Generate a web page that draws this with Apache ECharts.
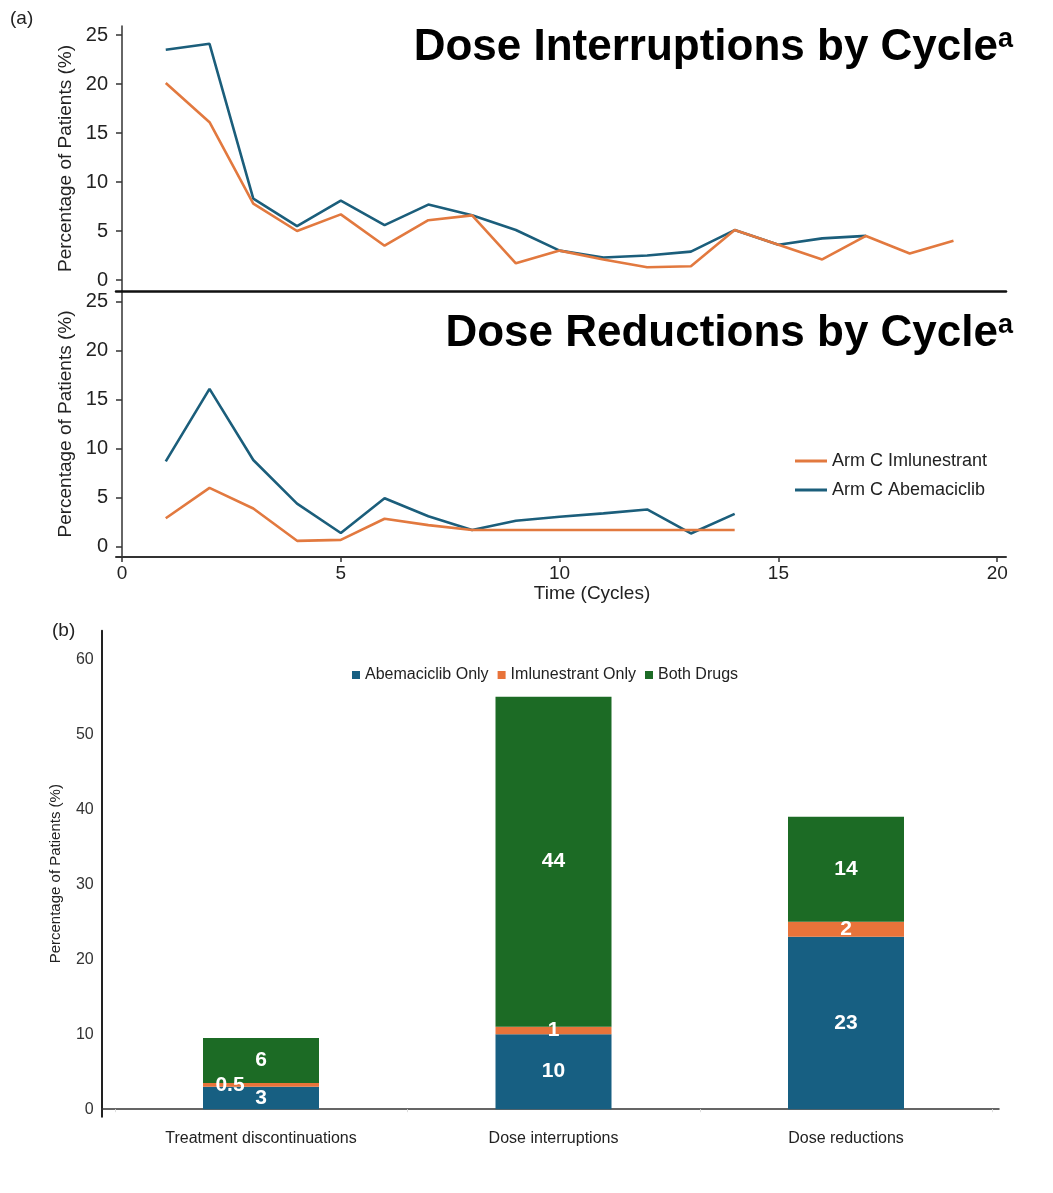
<!DOCTYPE html>
<html>
<head>
<meta charset="utf-8">
<script src="https://cdn.jsdelivr.net/npm/echarts@6/dist/echarts.min.js"></script>
<style>
  html, body { margin: 0; padding: 0; background: #fff; }
  #chart { width: 1053px; height: 1193px; }
</style>
</head>
<body>
<div id="chart"></div>
<script>
// ---- Panel (a): percentage of patients per cycle ----
const cycles = [1, 2, 3, 4, 5, 6, 7, 8, 9, 10, 11, 12, 13, 14, 15, 16, 17, 18, 19];

// Dose interruptions by cycle
const interruptImlunestrant = [20.1, 16.1, 7.8, 5.0, 6.7, 3.5, 6.1, 6.6, 1.7, 3.0, 2.1, 1.3, 1.4, 5.1, 3.6, 2.1, 4.5, 2.7, 4.0];
const interruptAbemaciclib  = [23.5, 24.1, 8.3, 5.5, 8.1, 5.6, 7.7, 6.6, 5.1, 3.0, 2.3, 2.5, 2.9, 5.1, 3.6, 4.25, 4.5];

// Dose reductions by cycle
const reductImlunestrant = [2.9, 6.0, 3.9, 0.6, 0.7, 2.85, 2.2, 1.7, 1.7, 1.7, 1.7, 1.7, 1.7, 1.7];
const reductAbemaciclib  = [8.7, 16.1, 8.85, 4.4, 1.4, 4.95, 3.1, 1.7, 2.65, 3.05, 3.4, 3.8, 1.35, 3.35];

const lineYTicks = [0, 5, 10, 15, 20, 25];
const cycleTicks = [0, 5, 10, 15, 20];

// ---- Panel (b): stacked bars ----
const barCategories = ['Treatment discontinuations', 'Dose interruptions', 'Dose reductions'];
const abemaciclibOnly  = [3, 10, 23];
const imlunestrantOnly = [0.5, 1, 2];
const bothDrugs        = [6, 44, 14];
const barYTicks = [0, 10, 20, 30, 40, 50, 60];

const FONT = '"Liberation Sans", Arial, Helvetica, sans-serif';
const C_ORANGE_LINE = '#e2793f';
const C_BLUE_LINE = '#1b5e7b';
const C_BLUE_BAR = '#175f82';
const C_ORANGE_BAR = '#e8733a';
const C_GREEN_BAR = '#1c6b25';

const pairs = (xs, ys) => ys.map((v, i) => [xs[i], v]);

function cycleXAxis(gridIndex, withLabels, lineStyle) {
  return {
    type: 'value', gridIndex: gridIndex, min: -0.137, max: 20.2,
    position: 'bottom',
    axisLine: { show: true, onZero: false, lineStyle: lineStyle },
    axisTick: { show: withLabels, customValues: cycleTicks, length: 5, lineStyle: { color: '#333', width: 1.5 } },
    axisLabel: { show: withLabels, customValues: cycleTicks, margin: 7, fontSize: 19, color: '#222', fontFamily: FONT },
    splitLine: { show: false },
    name: withLabels ? 'Time (Cycles)' : '',
    nameLocation: 'middle', nameGap: 25,
    nameTextStyle: { fontSize: 19, color: '#222', fontFamily: FONT, padding: [0, 0, 0, 62] }
  };
}

function percentYAxis(gridIndex, min, max) {
  return {
    type: 'value', gridIndex: gridIndex, min: min, max: max,
    axisLine: { show: true, lineStyle: { color: '#333', width: 1.5 } },
    axisTick: { show: true, customValues: lineYTicks, length: 6, lineStyle: { color: '#333', width: 1.5 } },
    axisLabel: { customValues: lineYTicks, margin: 8, fontSize: 20, color: '#222', fontFamily: FONT },
    splitLine: { show: false },
    name: 'Percentage of Patients (%)', nameLocation: 'middle', nameGap: 29,
    nameTextStyle: { fontSize: 19, color: '#222', fontFamily: FONT }
  };
}

function lineSeries(name, xIdx, yIdx, values, color) {
  return {
    type: 'line', name: name, xAxisIndex: xIdx, yAxisIndex: yIdx,
    data: pairs(cycles, values), symbol: 'none', smooth: false,
    lineStyle: { color: color, width: 2.6 }, itemStyle: { color: color },
    emphasis: { disabled: true }
  };
}

const barLabel = { show: true, position: 'inside', color: '#fff', fontSize: 21, fontWeight: 'bold', fontFamily: FONT };

function barSeries(name, values, color, labelOffsets) {
  return {
    type: 'bar', name: name, stack: 'total', xAxisIndex: 3, yAxisIndex: 3,
    barWidth: 116,
    data: values.map((v, i) => (labelOffsets && labelOffsets[i])
      ? { value: v, label: { offset: labelOffsets[i] } } : v),
    itemStyle: { color: color },
    label: barLabel,
    emphasis: { disabled: true }
  };
}

const titleRich = (size) => ({
  m: { fontSize: size, fontWeight: 'bold', color: '#000', fontFamily: FONT, lineHeight: 50 },
  s: { fontSize: 27, fontWeight: 'bold', color: '#000', fontFamily: FONT, verticalAlign: 'top', lineHeight: 30, padding: [3, 0, 0, 0] }
});

const option = {
  backgroundColor: '#fff',
  animation: false,
  title: [
    { text: '(a)', left: 5, top: 4, textStyle: { fontSize: 19, fontWeight: 'normal', color: '#222', fontFamily: FONT } },
    { text: '{m|Dose Interruptions by Cycle}{s|a}', right: 35, top: 18, textStyle: { rich: titleRich(44) } },
    { text: '{m|Dose Reductions by Cycle}{s|a}', right: 35, top: 304, textStyle: { rich: titleRich(44) } },
    { text: '(b)', left: 47, top: 616, textStyle: { fontSize: 19, fontWeight: 'normal', color: '#222', fontFamily: FONT } }
  ],
  legend: [
    {
      data: ['Arm C Imlunestrant', 'Arm C Abemaciclib'],
      orient: 'vertical', left: 790, top: 447,
      icon: 'rect', itemWidth: 32, itemHeight: 3, itemGap: 11,
      textStyle: { fontSize: 18, color: '#222', fontFamily: FONT }
    },
    {
      data: ['Abemaciclib Only', 'Imlunestrant Only', 'Both Drugs'],
      orient: 'horizontal', left: 347, top: 662,
      icon: 'rect', itemWidth: 8, itemHeight: 8, itemGap: 9,
      textStyle: { fontSize: 16, color: '#222', fontFamily: FONT }
    }
  ],
  grid: [
    { left: 116, top: 26, width: 890, height: 265 },
    { left: 116, top: 291, width: 890, height: 266 },
    { left: 101.7, top: 630.7, width: 897.3, height: 486 },
    { left: 114.75, top: 630.7, width: 877.5, height: 486 }
  ],
  xAxis: [
    cycleXAxis(0, false, { color: '#111', width: 2.5 }),
    cycleXAxis(1, true, { color: '#333', width: 2 }),
    {
      type: 'value', gridIndex: 2, min: 0, max: 1,
      axisLine: { show: true, onZero: true, lineStyle: { color: '#333', width: 1.5 } },
      axisTick: { show: false }, axisLabel: { show: false }, splitLine: { show: false }
    },
    {
      type: 'category', gridIndex: 3, data: barCategories,
      axisLine: { show: false, onZero: true },
      axisTick: { show: true, length: 3, lineStyle: { color: '#ddd' } },
      axisLabel: { margin: 14, fontSize: 16, color: '#222', fontFamily: FONT }
    }
  ],
  yAxis: [
    percentYAxis(0, -1.12, 25.92),
    percentYAxis(1, -1.05, 26.09),
    {
      type: 'value', gridIndex: 2, min: -1, max: 63.8,
      axisLine: { show: true, lineStyle: { color: '#222', width: 2 } },
      axisTick: { show: false },
      axisLabel: { customValues: barYTicks, margin: 8, fontSize: 16, color: '#333', fontFamily: FONT },
      splitLine: { show: false },
      name: 'Percentage of Patients (%)', nameLocation: 'middle', nameGap: 38,
      nameTextStyle: { fontSize: 15, color: '#222', fontFamily: FONT }
    },
    {
      type: 'value', gridIndex: 3, min: -1, max: 63.8, show: false,
      splitLine: { show: false }
    }
  ],
  series: [
    lineSeries('Arm C Abemaciclib', 0, 0, interruptAbemaciclib, C_BLUE_LINE),
    lineSeries('Arm C Imlunestrant', 0, 0, interruptImlunestrant, C_ORANGE_LINE),
    lineSeries('Arm C Abemaciclib', 1, 1, reductAbemaciclib, C_BLUE_LINE),
    lineSeries('Arm C Imlunestrant', 1, 1, reductImlunestrant, C_ORANGE_LINE),
    barSeries('Abemaciclib Only', abemaciclibOnly, C_BLUE_BAR),
    barSeries('Imlunestrant Only', imlunestrantOnly, C_ORANGE_BAR, [[-31, 0], null, null]),
    barSeries('Both Drugs', bothDrugs, C_GREEN_BAR)
  ]
};

const chart = echarts.init(document.getElementById('chart'), null, { renderer: 'canvas' });
chart.setOption(option);
</script>
</body>
</html>
